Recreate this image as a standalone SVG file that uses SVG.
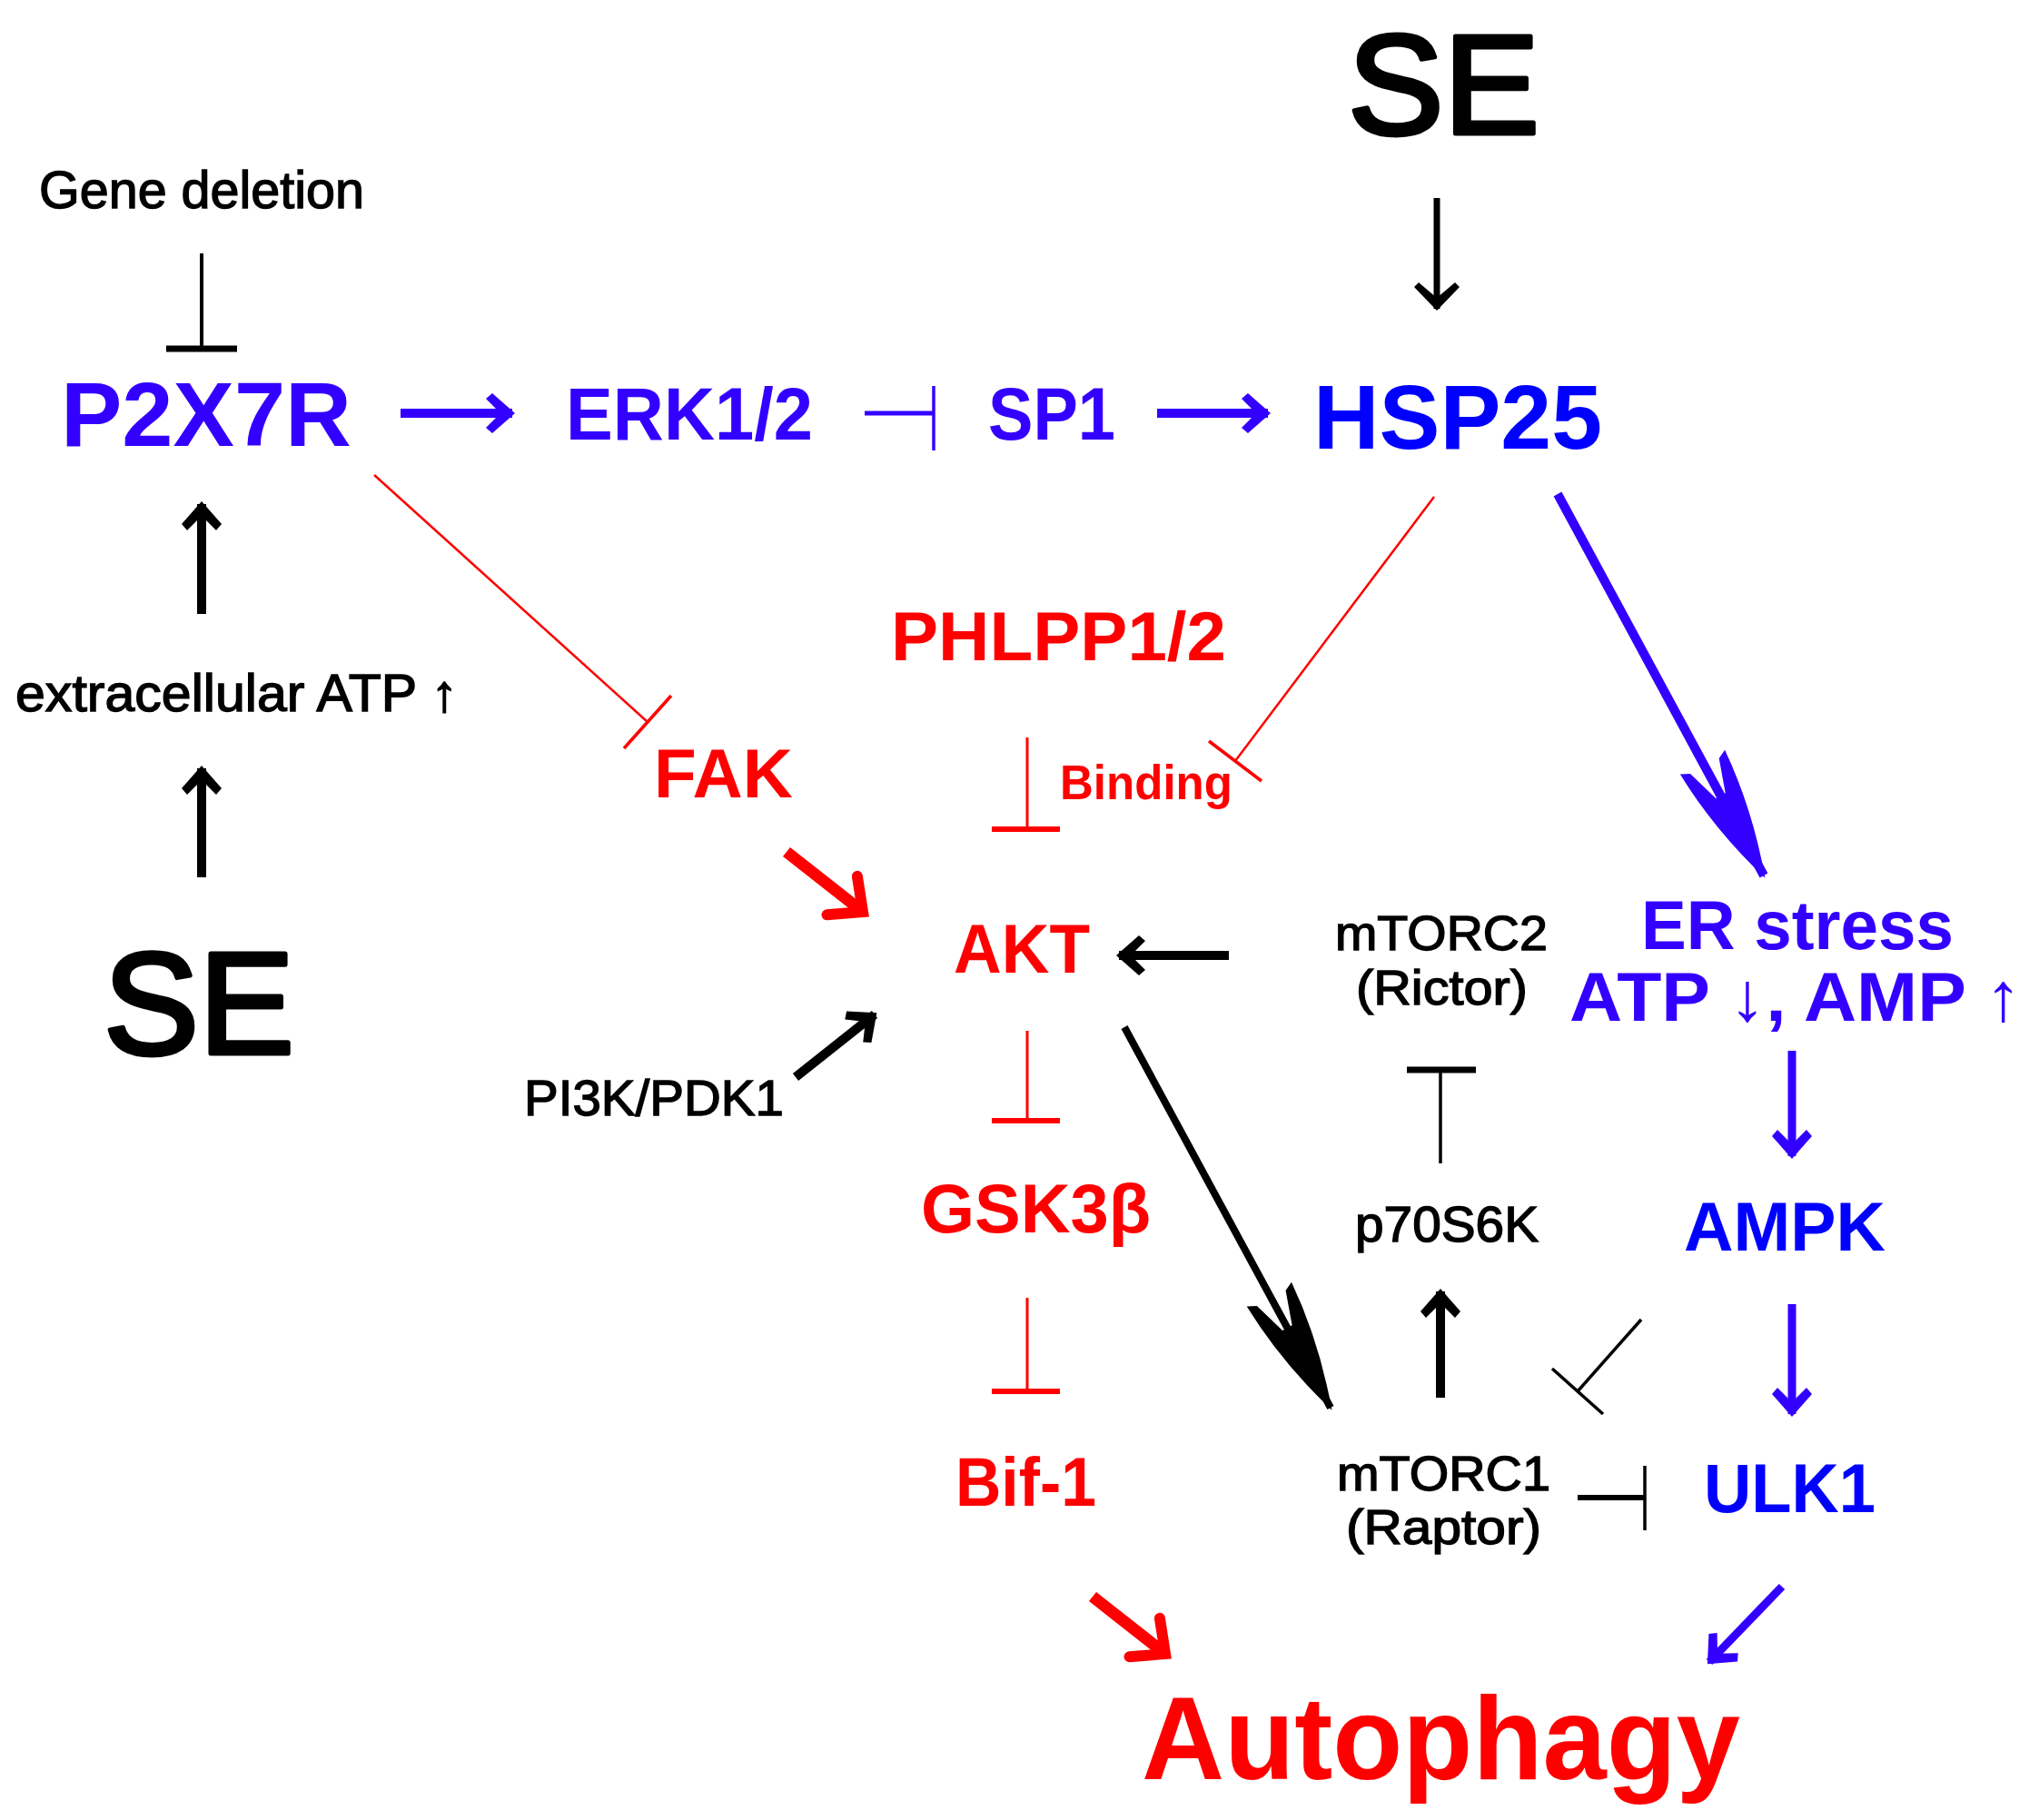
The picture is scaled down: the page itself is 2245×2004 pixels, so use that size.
<svg xmlns="http://www.w3.org/2000/svg" width="2245" height="2004" viewBox="0 0 2245 2004">
<style>
text{font-family:"Liberation Sans",Arial,sans-serif}
.b{font-weight:bold}
.m{stroke:#000;stroke-width:1.4}
.se{stroke:#000;stroke-width:5;stroke-linejoin:round}
.red{fill:#ff0000}
.vio{fill:#3300ff}
.blu{fill:#0000ff}
.blk{fill:#000}
.ln{fill:none;stroke-linecap:butt}
</style>
<defs>
<marker id="ahBlk" markerUnits="userSpaceOnUse" viewBox="-40 -30 50 60" refX="0" refY="0" markerWidth="50" markerHeight="60" orient="auto">
<path d="M3,0 L-22,-22 L-29,-16 L-13,0 L-29,16 L-22,22 Z" fill="#000"/>
</marker>
<marker id="ahBlkS" markerUnits="userSpaceOnUse" viewBox="-40 -30 50 60" refX="0" refY="0" markerWidth="50" markerHeight="60" orient="auto">
<path d="M2,0 L-24,-25 L-29,-20 L-12,0 L-29,20 L-24,25 Z" fill="#000"/>
</marker>
<marker id="ahVio" markerUnits="userSpaceOnUse" viewBox="-40 -30 50 60" refX="0" refY="0" markerWidth="50" markerHeight="60" orient="auto">
<path d="M3,0 L-22,-22 L-29,-16 L-13,0 L-29,16 L-22,22 Z" fill="#3300ff"/>
</marker>
<marker id="ahRed" markerUnits="userSpaceOnUse" viewBox="-45 -40 60 80" refX="0" refY="0" markerWidth="60" markerHeight="80" orient="auto">
<path d="M-29,-27 L0,0 L-29,27" fill="none" stroke="#ff0000" stroke-width="12" stroke-linejoin="miter" stroke-linecap="round"/>
</marker>
<marker id="barbVio" markerUnits="userSpaceOnUse" viewBox="-150 -35 160 70" refX="0" refY="0" markerWidth="160" markerHeight="70" orient="auto">
<path d="M3,0 Q-70,-24 -142,-28 L-137,-18 L-100,-6 L-100,6 L-137,18 L-142,28 Q-70,24 3,0 Z" fill="#3300ff"/>
</marker>
<marker id="barbBlk" markerUnits="userSpaceOnUse" viewBox="-150 -35 160 70" refX="0" refY="0" markerWidth="160" markerHeight="70" orient="auto">
<path d="M3,0 Q-70,-24 -142,-28 L-137,-18 L-100,-6 L-100,6 L-137,18 L-142,28 Q-70,24 3,0 Z" fill="#000"/>
</marker>
</defs>
<rect width="2245" height="2004" fill="#fff"/>

<g id="connectors">
  <!-- activation arrows -->
  <line class="ln" x1="1582" y1="218" x2="1582" y2="340" stroke="#000" stroke-width="7" marker-end="url(#ahBlkS)"/>
  <line class="ln" x1="441" y1="455" x2="564" y2="455" stroke="#3300ff" stroke-width="10" marker-end="url(#ahVio)"/>
  <line class="ln" x1="1274" y1="455" x2="1396" y2="455" stroke="#3300ff" stroke-width="10" marker-end="url(#ahVio)"/>
  <line class="ln" x1="222" y1="676" x2="222" y2="555" stroke="#000" stroke-width="10" marker-end="url(#ahBlk)"/>
  <line class="ln" x1="222" y1="966" x2="222" y2="846" stroke="#000" stroke-width="10" marker-end="url(#ahBlk)"/>
  <line class="ln" x1="1353" y1="1052" x2="1232" y2="1052" stroke="#000" stroke-width="10" marker-end="url(#ahBlk)"/>
  <line class="ln" x1="876" y1="1186" x2="963" y2="1117" stroke="#000" stroke-width="10" marker-end="url(#ahBlk)"/>
  <line class="ln" x1="1586" y1="1539" x2="1586" y2="1422" stroke="#000" stroke-width="10" marker-end="url(#ahBlk)"/>
  <line class="ln" x1="1973" y1="1157" x2="1973" y2="1273" stroke="#3300ff" stroke-width="9" marker-end="url(#ahVio)"/>
  <line class="ln" x1="1973" y1="1436" x2="1973" y2="1557" stroke="#3300ff" stroke-width="9" marker-end="url(#ahVio)"/>
  <line class="ln" x1="1962" y1="1747" x2="1882" y2="1830" stroke="#3300ff" stroke-width="9" marker-end="url(#ahVio)"/>
  <line class="ln" x1="866" y1="938" x2="950" y2="1004" stroke="#ff0000" stroke-width="13" stroke-linecap="round" marker-end="url(#ahRed)"/>
  <line class="ln" x1="1203" y1="1758" x2="1283" y2="1821" stroke="#ff0000" stroke-width="13" stroke-linecap="round" marker-end="url(#ahRed)"/>
  <line class="ln" x1="1715" y1="544" x2="1942" y2="964" stroke="#3300ff" stroke-width="10" marker-end="url(#barbVio)"/>
  <line class="ln" x1="1238" y1="1131" x2="1465" y2="1550" stroke="#000" stroke-width="8" marker-end="url(#barbBlk)"/>

  <!-- inhibitions -->
  <g fill="none" stroke="#000">
    <line x1="222" y1="279" x2="222" y2="384" stroke-width="4"/>
    <line x1="183" y1="384" x2="261" y2="384" stroke-width="7"/>
    <line x1="1586" y1="1281" x2="1586" y2="1178" stroke-width="3.5"/>
    <line x1="1549" y1="1178" x2="1625" y2="1178" stroke-width="7"/>
    <line x1="1807" y1="1453" x2="1737" y2="1532" stroke-width="3.5"/>
    <line x1="1709" y1="1507" x2="1765" y2="1557" stroke-width="3.5"/>
    <line x1="1737" y1="1649" x2="1811" y2="1649" stroke-width="6"/>
    <line x1="1811" y1="1614" x2="1811" y2="1685" stroke-width="3.5"/>
  </g>
  <g fill="none" stroke="#3300ff">
    <line x1="952" y1="455" x2="1028" y2="455" stroke-width="5"/>
    <line x1="1028" y1="425" x2="1028" y2="496" stroke-width="3.5"/>
  </g>
  <g fill="none" stroke="#ff0000">
    <line x1="412" y1="523" x2="713" y2="795" stroke-width="2.5"/>
    <line x1="687" y1="824" x2="739" y2="766" stroke-width="3.5"/>
    <line x1="1579" y1="547" x2="1360" y2="838" stroke-width="2.5"/>
    <line x1="1331" y1="816" x2="1389" y2="860" stroke-width="3.5"/>
    <line x1="1131" y1="812" x2="1131" y2="913" stroke-width="3"/>
    <line x1="1092" y1="913" x2="1167" y2="913" stroke-width="6"/>
    <line x1="1131" y1="1135" x2="1131" y2="1234" stroke-width="3"/>
    <line x1="1092" y1="1234" x2="1167" y2="1234" stroke-width="6"/>
    <line x1="1131" y1="1429" x2="1131" y2="1532" stroke-width="3"/>
    <line x1="1092" y1="1532" x2="1167" y2="1532" stroke-width="6"/>
  </g>
</g>

<g id="node-se-top"><text class="blk se" x="1484" y="147" font-size="155" textLength="211" lengthAdjust="spacingAndGlyphs">SE</text></g>
<g id="node-gene-deletion"><text class="blk m" x="43" y="229" font-size="58" textLength="358" lengthAdjust="spacingAndGlyphs">Gene deletion</text></g>
<g id="node-p2x7r"><text class="b vio" x="67" y="491" font-size="101" textLength="320" lengthAdjust="spacingAndGlyphs">P2X7R</text></g>
<g id="node-erk"><text class="b vio" x="623" y="484" font-size="82" textLength="272" lengthAdjust="spacingAndGlyphs">ERK1/2</text></g>
<g id="node-sp1"><text class="b vio" x="1088" y="484" font-size="82" textLength="140" lengthAdjust="spacingAndGlyphs">SP1</text></g>
<g id="node-hsp25"><text class="b blu" x="1446" y="494" font-size="100" textLength="318" lengthAdjust="spacingAndGlyphs">HSP25</text></g>
<g id="node-phlpp"><text class="b red" x="981" y="727" font-size="76" textLength="369" lengthAdjust="spacingAndGlyphs">PHLPP1/2</text></g>
<g id="node-fak"><text class="b red" x="720" y="878" font-size="76" textLength="153" lengthAdjust="spacingAndGlyphs">FAK</text></g>
<g id="node-binding"><text class="b red" x="1167" y="880" font-size="54" textLength="190" lengthAdjust="spacingAndGlyphs">Binding</text></g>
<g id="node-akt"><text class="b red" x="1050" y="1071" font-size="76" textLength="150" lengthAdjust="spacingAndGlyphs">AKT</text></g>
<g id="node-mtorc2">
  <text class="blk m" x="1470" y="1046" font-size="53" textLength="234" lengthAdjust="spacingAndGlyphs">mTORC2</text>
  <text class="blk m" x="1493" y="1106" font-size="53" textLength="189" lengthAdjust="spacingAndGlyphs">(Rictor)</text>
</g>
<g id="node-er-stress">
  <text class="b vio" x="1807" y="1045" font-size="76" textLength="344" lengthAdjust="spacingAndGlyphs">ER stress</text>
  <text class="b vio" x="1728" y="1124" font-size="76" textLength="498" lengthAdjust="spacingAndGlyphs">ATP ↓, AMP ↑</text>
</g>
<g id="node-ampk"><text class="b blu" x="1854" y="1377" font-size="76" textLength="222" lengthAdjust="spacingAndGlyphs">AMPK</text></g>
<g id="node-ulk1"><text class="b blu" x="1876" y="1665" font-size="76" textLength="189" lengthAdjust="spacingAndGlyphs">ULK1</text></g>
<g id="node-mtorc1">
  <text class="blk m" x="1472" y="1641" font-size="53" textLength="235" lengthAdjust="spacingAndGlyphs">mTORC1</text>
  <text class="blk m" x="1482" y="1700" font-size="53" textLength="215" lengthAdjust="spacingAndGlyphs">(Raptor)</text>
</g>
<g id="node-p70s6k"><text class="blk m" x="1492" y="1367" font-size="55" textLength="202" lengthAdjust="spacingAndGlyphs">p70S6K</text></g>
<g id="node-gsk3b"><text class="b red" x="1014" y="1357" font-size="76" textLength="253" lengthAdjust="spacingAndGlyphs">GSK3β</text></g>
<g id="node-bif1"><text class="b red" x="1052" y="1658" font-size="76" textLength="155" lengthAdjust="spacingAndGlyphs">Bif-1</text></g>
<g id="node-autophagy"><text class="b red" x="1257" y="1959" font-size="130" textLength="659" lengthAdjust="spacingAndGlyphs">Autophagy</text></g>
<g id="node-extracellular-atp"><text class="blk m" x="17" y="783" font-size="57" textLength="487" lengthAdjust="spacingAndGlyphs">extracellular ATP ↑</text></g>
<g id="node-se-bottom"><text class="blk se" x="114" y="1160" font-size="160" textLength="210" lengthAdjust="spacingAndGlyphs">SE</text></g>
<g id="node-pi3k"><text class="blk m" x="577" y="1228" font-size="56" textLength="286" lengthAdjust="spacingAndGlyphs">PI3K/PDK1</text></g>
</svg>
